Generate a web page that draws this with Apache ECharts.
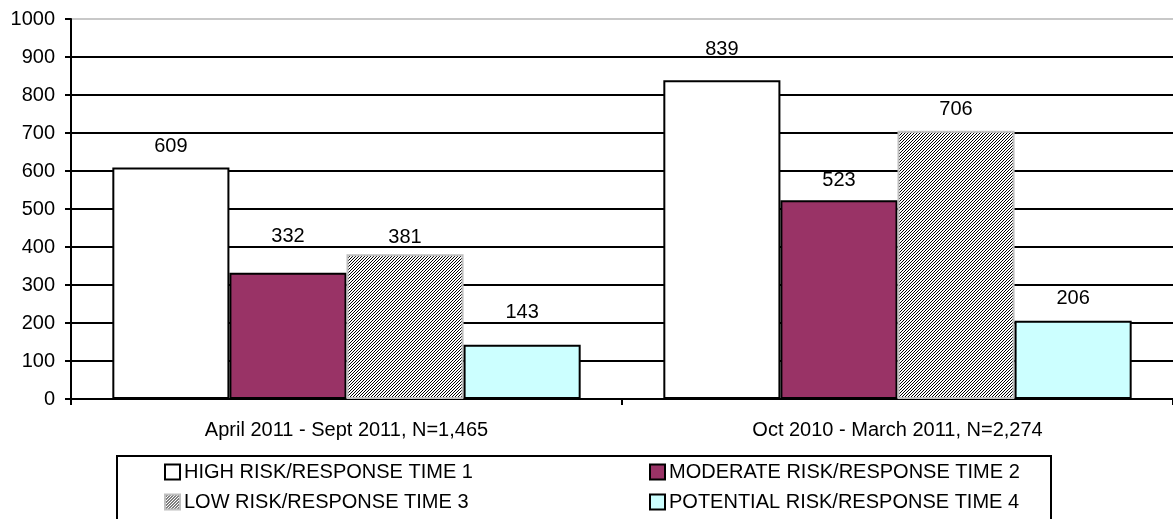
<!DOCTYPE html>
<html><head><meta charset="utf-8">
<script src="https://cdn.jsdelivr.net/npm/echarts@6/dist/echarts.min.js"></script>
<style>html,body{margin:0;padding:0;background:#fff}#c{width:1173px;height:519px}</style>
</head><body><div id="c"></div>
<script>
const categories = ['April 2011 - Sept 2011, N=1,465', 'Oct 2010 - March 2011, N=2,274'];
const seriesNames = ['HIGH RISK/RESPONSE TIME 1', 'MODERATE RISK/RESPONSE TIME 2', 'LOW RISK/RESPONSE TIME 3', 'POTENTIAL RISK/RESPONSE TIME 4'];
const highRisk = [609, 839];
const moderateRisk = [332, 523];
const lowRisk = [381, 706];
const potentialRisk = [143, 206];
const yTicks = [0, 100, 200, 300, 400, 500, 600, 700, 800, 900, 1000];

// label gap above each bar, in px, as placed in the reference
const labelGaps = [[11, 21], [26, 10], [7, 11], [22, 12]];

function hatch() {
  const c = document.createElement('canvas');
  c.width = 3; c.height = 3;
  const g = c.getContext('2d');
  g.fillStyle = '#fff'; g.fillRect(0, 0, 3, 3);
  g.fillStyle = '#000';
  for (let i = 0; i < 3; i++) g.fillRect(i, 2 - i, 1, 1);
  return c;
}
const hatchPattern = { image: hatch(), repeat: 'repeat' };

const font = 'Liberation Sans, Arial, sans-serif';
const values = [highRisk, moderateRisk, lowRisk, potentialRisk];
const styles = [
  { color: '#ffffff', borderColor: '#000', borderWidth: 2 },
  { color: '#993366', borderColor: '#000', borderWidth: 2 },
  { color: hatchPattern, borderColor: '#c0c0c0', borderWidth: 2 },
  { color: '#ccffff', borderColor: '#000', borderWidth: 2 }
];

const legendText = { fontSize: 20, lineHeight: 20, color: '#000', fontFamily: font, padding: [0, 0, 0, -1] };

const chart = echarts.init(document.getElementById('c'), null, { renderer: 'canvas' });
chart.setOption({
  animation: false,
  textStyle: { fontFamily: font },
  grid: { left: 71, right: 0, top: 19, bottom: 120, containLabel: false },
  graphic: [{
    type: 'rect', z: 0,
    shape: { x: 117, y: 456, width: 934, height: 80 },
    style: { fill: '#fff', stroke: '#000', lineWidth: 2 }
  }],
  legend: [
    { data: [seriesNames[0], seriesNames[2]], orient: 'vertical', left: 164, top: 462, padding: 0,
      itemWidth: 15, itemHeight: 15, itemGap: 10, icon: 'rect', textStyle: legendText },
    { data: [seriesNames[1], seriesNames[3]], orient: 'vertical', left: 649, top: 462, padding: 0,
      itemWidth: 15, itemHeight: 15, itemGap: 10, icon: 'rect', textStyle: legendText }
  ],
  xAxis: {
    type: 'category', data: categories,
    axisLine: { lineStyle: { color: '#000', width: 2 } },
    axisTick: { show: true, length: 6, lineStyle: { color: '#000', width: 2 } },
    axisLabel: { color: '#000', fontSize: 20, margin: 21, fontFamily: font }
  },
  yAxis: {
    type: 'value', min: 0, max: 1000, interval: 100,
    axisLine: { show: true, lineStyle: { color: '#000', width: 2 } },
    axisTick: { show: true, length: 6, lineStyle: { color: '#000', width: 2 } },
    axisLabel: { color: '#000', fontSize: 20, margin: 16, fontFamily: font, formatter: v => String(v) },
    splitLine: { show: true, lineStyle: { width: 2, color: yTicks.map((v, i) => i === yTicks.length - 1 ? '#c8c8c8' : '#000') } }
  },
  series: seriesNames.map((n, i) => ({
    name: n, type: 'bar',
    data: values[i].map((v, j) => ({ value: v, label: { distance: labelGaps[i][j] } })),
    barGap: '0%', barCategoryGap: '15%',
    itemStyle: styles[i],
    label: { show: true, position: 'top', color: '#000', fontSize: 20, fontFamily: font }
  }))
});
</script></body></html>
